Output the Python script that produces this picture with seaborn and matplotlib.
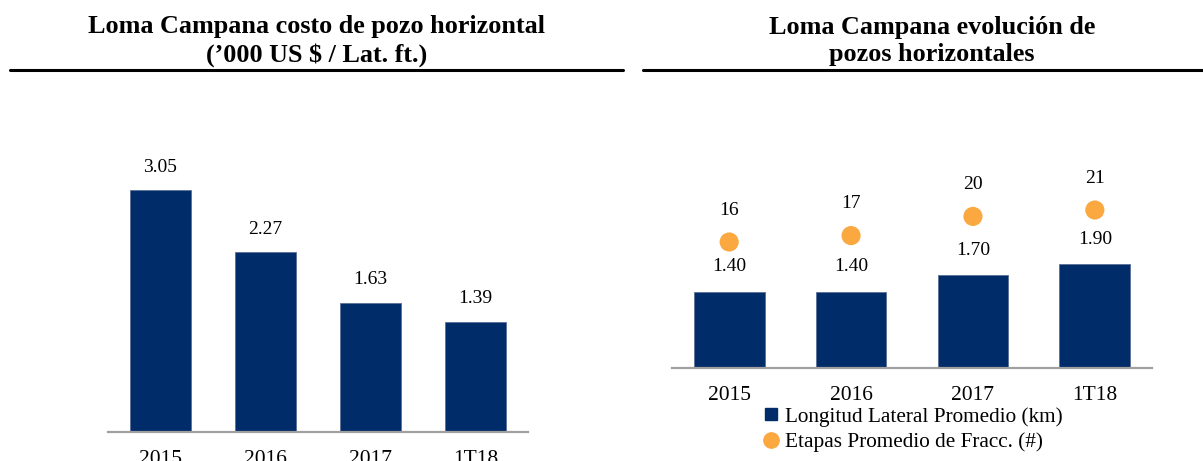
import matplotlib
matplotlib.use("Agg")
import matplotlib.pyplot as plt
import seaborn as sns
import numpy as np
from matplotlib.lines import Line2D

# data
years = ["2015", "2016", "2017", "1T18"]
well_cost = [3.05, 2.27, 1.63, 1.39]          # '000 US$ / lat. ft.
lateral_km = [1.40, 1.40, 1.70, 1.90]         # longitud lateral promedio (km)
frac_stages = [16, 17, 20, 21]                # etapas promedio de fracc.

title_left = "Loma Campana costo de pozo horizontal\n(\u2019000 US $ / Lat. ft.)"
title_right = "Loma Campana evolución de\npozos horizontales"
legend_labels = ["Longitud Lateral Promedio (km)", "Etapas Promedio de Fracc. (#)"]

NAVY = "#002d6a"
ORANGE = "#fba840"
AXIS_GREY = "#a0a0a0"

sns.set_style("white")
plt.rcParams["font.family"] = ["Liberation Serif", "DejaVu Serif"]
plt.rcParams["text.color"] = "black"

W, H = 1203, 461
fig = plt.figure(figsize=(W / 100, H / 100), dpi=100)


def px_axes(x0, y0, x1, y1):
    # axes box given in pixel coords (origin top-left)
    return fig.add_axes([x0 / W, 1 - y1 / H, (x1 - x0) / W, (y1 - y0) / H])


def clean(ax):
    for s in ["top", "left", "right"]:
        ax.spines[s].set_visible(False)
    ax.spines["bottom"].set_color(AXIS_GREY)
    ax.spines["bottom"].set_linewidth(1.6)
    ax.set_yticks([])
    ax.set_xlabel("")
    ax.set_ylabel("")
    ax.tick_params(axis="x", length=0, pad=13, labelsize=15.5, colors="black")


# left panel: well cost
ax1 = px_axes(108, 100, 528, 432)
sns.barplot(x=years, y=well_cost, color=NAVY, saturation=1, width=0.59,
            edgecolor="#5a6f94", linewidth=0.6, ax=ax1)
ax1.set_ylim(0, 332 / 79.3)
clean(ax1)
for i, v in enumerate(well_cost):
    ax1.annotate(f"{v:.2f}", (i, v), xytext=(0, 16.5), textcoords="offset points",
                 ha="center", va="center", fontsize=14)

# right panel: lateral length + frac stages
ax2 = px_axes(672, 100, 1152, 368)
sns.barplot(x=years, y=lateral_km, color=NAVY, saturation=1, width=0.58,
            edgecolor="#5a6f94", linewidth=0.6, ax=ax2)
ax2.set_ylim(0, 268 / 54.5)
clean(ax2)
for i, v in enumerate(lateral_km):
    ax2.annotate(f"{v:.2f}", (i, v), xytext=(0, 18), textcoords="offset points",
                 ha="center", va="center", fontsize=14)

ax3 = ax2.twinx()
sns.scatterplot(x=np.arange(len(years)), y=frac_stages, color=ORANGE, s=190,
                edgecolor="none", ax=ax3, zorder=5)
ax3.set_ylim(-3.7, 38.2)
ax3.set_yticks([])
ax3.set_ylabel("")
for s in ax3.spines.values():
    s.set_visible(False)
for i, v in enumerate(frac_stages):
    ax3.annotate(f"{v}", (i, v), xytext=(0, 23), textcoords="offset points",
                 ha="center", va="center", fontsize=14)

handles = [
    Line2D([], [], marker="s", linestyle="none", color=NAVY, markersize=9),
    Line2D([], [], marker="o", linestyle="none", color=ORANGE, markersize=11),
]
fig.legend(handles, legend_labels, loc="upper left", bbox_to_anchor=(764 / W, 1 - 407 / H),
           frameon=False, fontsize=15.3, handlelength=0.7, handletextpad=0.3,
           labelspacing=0.26, borderpad=0, borderaxespad=0)

# titles and underlines
fig.text(317 / W, 1 - 41 / H, title_left, ha="center", va="center", fontsize=18.8,
         fontweight="bold", linespacing=1.24)
fig.text(932 / W, 1 - 41 / H, title_right, ha="center", va="center", fontsize=18.8,
         fontweight="bold", linespacing=1.24)
fig.add_artist(Line2D([10 / W, 623 / W], [1 - 70 / H] * 2, color="black", lw=2.2))
fig.add_artist(Line2D([643 / W, 1.0], [1 - 70 / H] * 2, color="black", lw=2.2))

fig.savefig("out.png", dpi=100)
